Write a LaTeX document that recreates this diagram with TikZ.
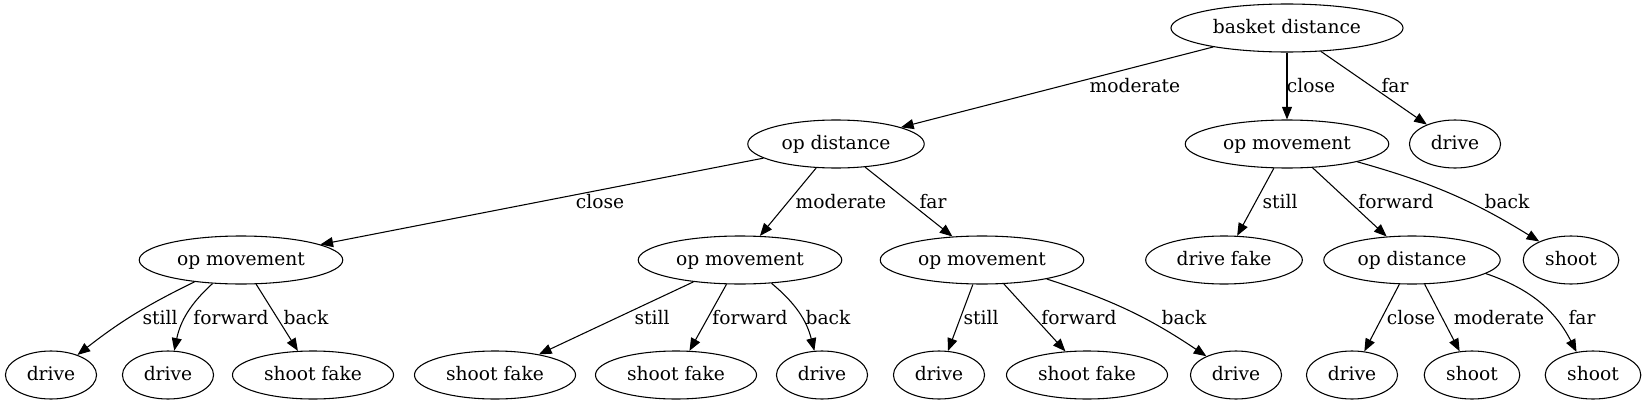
\documentclass[tikz,border=0pt]{standalone}
\usepackage{fontspec}
\setmainfont{DejaVu Serif}
\usetikzlibrary{shapes.geometric,arrows.meta}
\tikzset{
  every tree node/.style={
    draw=black,ellipse,line width=0.8pt,inner xsep=6pt,inner ysep=1pt,
    minimum height=36pt,minimum width=40pt,
    text height=10.5pt,text depth=3pt,font=\fontsize{14pt}{16pt}\selectfont,
  },
  tree edge/.style={
    draw=black,line width=0.8pt,-{Triangle[length=9.5pt,width=7.5pt]},
  },
  edge label/.style={
    font=\fontsize{14pt}{16pt}\selectfont,inner sep=0pt,
  },
}

\begin{document}
\begin{tikzpicture}[x=0.75pt,y=0.75pt]
   \useasboundingbox (0,0) rectangle (1645,-407);

   % NODES
   \node[every tree node] (r0) at (1287, -28) {basket distance}; % root
   \node[every tree node] (a0) at (836, -144) {op distance};
   \node[every tree node] (a1) at (1287, -144) {op movement};
   \node[every tree node] (a2) at (1455, -144) {drive}; % leaf

   \node[every tree node] (b0) at (241, -260) {op movement};
   \node[every tree node] (b1) at (740, -260) {op movement};
   \node[every tree node] (b2) at (982, -260) {op movement};
   \node[every tree node] (b3) at (1224, -260) {drive fake}; % leaf
   \node[every tree node] (b4) at (1412, -260) {op distance};
   \node[every tree node] (b5) at (1571, -260) {shoot}; % leaf

   \node[every tree node] (c0) at (51, -375) {drive}; % leaf
   \node[every tree node] (c1) at (168, -375) {drive}; % leaf
   \node[every tree node] (c2) at (313, -375) {shoot fake}; % leaf
   \node[every tree node] (c3) at (495, -375) {shoot fake}; % leaf
   \node[every tree node] (c4) at (676, -375) {shoot fake}; % leaf
   \node[every tree node] (c5) at (822, -375) {drive}; % leaf
   \node[every tree node] (c6) at (939, -375) {drive}; % leaf
   \node[every tree node] (c7) at (1087, -375) {shoot fake}; % leaf
   \node[every tree node] (c8) at (1236, -375) {drive}; % leaf
   \node[every tree node] (c9) at (1352, -375) {drive}; % leaf
   \node[every tree node] (c10) at (1472, -375) {shoot}; % leaf
   \node[every tree node] (c11) at (1593, -375) {shoot}; % leaf

   % DRAW TREE
   \path[tree edge] (r0) -- (a0) node[edge label] at (1135, -86) {moderate};
   \path[tree edge] (r0) -- (a1) node[edge label] at (1311, -86) {close};
   \path[tree edge] (r0) -- (a2) node[edge label] at (1395, -86) {far};

   \path[tree edge] (a0) -- (b0) node[edge label] at (600, -202) {close};
   \path[tree edge] (a0) -- (b1) node[edge label] at (841, -202) {moderate};
   \path[tree edge] (a0) -- (b2) node[edge label] at (933, -202) {far};
   \path[tree edge] (a1) -- (b3) node[edge label] at (1280, -202) {still};
   \path[tree edge] (a1) -- (b4) node[edge label] at (1396, -202) {forward};
   \path[tree edge] (a1) to[bend left=8] (b5) node[edge label] at (1507, -202) {back};

   \path[tree edge] (b0) to[bend right=6] (c0) node[edge label] at (160, -318) {still};
   \path[tree edge] (b0) to[bend right=18] (c1) node[edge label] at (231, -318) {forward};
   \path[tree edge] (b0) -- (c2) node[edge label] at (306, -318) {back};
   \path[tree edge] (b1) -- (c3) node[edge label] at (652, -318) {still};
   \path[tree edge] (b1) -- (c4) node[edge label] at (750, -318) {forward};
   \path[tree edge] (b1) to[bend left=18] (c5) node[edge label] at (828, -318) {back};
   \path[tree edge] (b2) -- (c6) node[edge label] at (981, -318) {still};
   \path[tree edge] (b2) -- (c7) node[edge label] at (1079, -318) {forward};
   \path[tree edge] (b2) to[bend left=8] (c8) node[edge label] at (1184, -318) {back};
   \path[tree edge] (b4) -- (c9) node[edge label] at (1411, -318) {close};
   \path[tree edge] (b4) -- (c10) node[edge label] at (1499, -318) {moderate};
   \path[tree edge] (b4) to[bend left=22] (c11) node[edge label] at (1582, -318) {far};

\end{tikzpicture}
\end{document}
